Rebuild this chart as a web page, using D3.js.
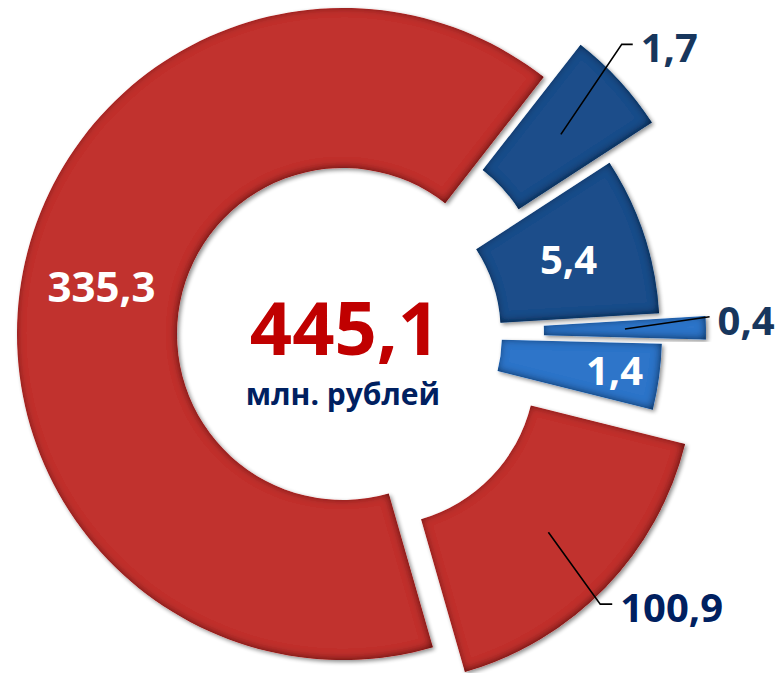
<!DOCTYPE html>
<html>
<head>
<meta charset="utf-8">
<script src="https://cdn.jsdelivr.net/npm/d3@7"></script>
<style>
  body { margin: 0; background: #fff; }
  text { font-family: "Open Sans", sans-serif; font-weight: 700; }
</style>
</head>
<body>
<div id="chart-area"></div>
<script>
// data
const values = [335.3, 1.7, 5.4, 0.4, 1.4, 100.9]
// sector sizes as drawn (degrees), the picture does not use proportional angles
const sweeps = [234, 19, 29.5, 5, 12.5, 60]
const unitLabel = "млн. рублей"

async function drawChart() {

  // 1. Access data
  const locale = d3.formatLocale({decimal: ",", thousands: " ", grouping: [3], currency: ["", ""]})
  const fmt = locale.format(".1f")
  const dataset = values.map((v, i) => ({value: v, sweep: sweeps[i], i}))

  // slice look: radii, how far the slice is pulled out, colour, label kind
  const red = "#C1302F", darkBlue = "#1F4E8A", lightBlue = "#2F74C9"
  const sliceLayout = [
    {inner: 166, outer: 326, shift: 0,  fill: red,       label: "inside",  size: 42},
    {inner: 161, outer: 320, shift: 55, fill: darkBlue,  label: "outside", elbowA: 43.9,  elbowR: 402, tail: 11, color: "#17365D"},
    {inner: 152, outer: 311, shift: 6,  fill: darkBlue,  label: "inside",  size: 40},
    {inner: 107, outer: 269, shift: 94, fill: lightBlue, label: "outside", elbowA: 87.3,  elbowR: 367, tail: 0,  color: "#17365D"},
    {inner: 145, outer: 305, shift: 14, fill: lightBlue, label: "inside",  size: 40, labelR: 260},
    {inner: 158, outer: 317, shift: 48, fill: red,       label: "outside", elbowA: 136.4, elbowR: 373, tail: 12, color: "#002060"},
  ]

  // 2. Create chart dimensions
  const dimensions = {
    width: 782,
    height: 673,
    cx: 343,
    cy: 334,
  }

  // 3. Draw canvas
  const wrapper = d3.select("#chart-area")
    .append("svg")
      .attr("width", dimensions.width)
      .attr("height", dimensions.height)

  const defs = wrapper.append("defs")
  const bevel = defs.append("filter")
      .attr("id", "bevel")
      .attr("x", "-10%").attr("y", "-10%")
      .attr("width", "120%").attr("height", "120%")
  // soft shadow outside
  bevel.append("feGaussianBlur").attr("in", "SourceAlpha").attr("stdDeviation", 2).attr("result", "outBlur")
  bevel.append("feOffset").attr("in", "outBlur").attr("dx", 1.5).attr("dy", 1.5).attr("result", "outOff")
  bevel.append("feComponentTransfer").attr("in", "outOff").attr("result", "outShadow")
    .append("feFuncA").attr("type", "linear").attr("slope", 0.45)
  // darker rim inside the edge
  bevel.append("feGaussianBlur").attr("in", "SourceAlpha").attr("stdDeviation", 4).attr("result", "inBlur")
  bevel.append("feOffset").attr("in", "inBlur").attr("dx", -1).attr("dy", -1).attr("result", "inOff")
  bevel.append("feComposite").attr("in", "SourceAlpha").attr("in2", "inOff")
      .attr("operator", "arithmetic").attr("k2", 1).attr("k3", -1).attr("result", "rim")
  bevel.append("feFlood").attr("flood-color", "#000").attr("flood-opacity", 0.95)
  bevel.append("feComposite").attr("in2", "rim").attr("operator", "in").attr("result", "rimShade")
  const merge = bevel.append("feMerge")
  merge.append("feMergeNode").attr("in", "outShadow")
  merge.append("feMergeNode").attr("in", "SourceGraphic")
  merge.append("feMergeNode").attr("in", "rimShade")

  const bounds = wrapper.append("g")
      .attr("transform", `translate(${dimensions.cx}, ${dimensions.cy})`)

  // 4. Create scales
  const rad = d => d * Math.PI / 180
  const pie = d3.pie()
      .sort(null)
      .value(d => d.sweep)
      .startAngle(rad(164 - 360))
      .endAngle(rad(164))
  const arcs = pie(dataset)

  const polar = (angle, r) => [Math.sin(angle) * r, -Math.cos(angle) * r]

  // 5. Draw data
  const slices = bounds.selectAll(".slice")
    .data(arcs)
    .join("g")
      .attr("class", "slice")
      .attr("transform", d => {
        const l = sliceLayout[d.data.i]
        const [x, y] = polar((d.startAngle + d.endAngle) / 2, l.shift)
        return `translate(${x}, ${y})`
      })

  slices.append("path")
      .attr("d", d => {
        const l = sliceLayout[d.data.i]
        return d3.arc().innerRadius(l.inner).outerRadius(l.outer)(d)
      })
      .attr("fill", d => sliceLayout[d.data.i].fill)
      .attr("filter", "url(#bevel)")

  // labels inside slices
  slices.filter(d => sliceLayout[d.data.i].label === "inside")
    .append("text")
      .attr("transform", d => {
        const l = sliceLayout[d.data.i]
        const r = l.labelR || (l.inner + l.outer) / 2
        const [x, y] = polar((d.startAngle + d.endAngle) / 2, r)
        return `translate(${x}, ${y})`
      })
      .attr("dy", "0.36em")
      .attr("text-anchor", "middle")
      .attr("fill", "#fff")
      .style("font-size", d => sliceLayout[d.data.i].size + "px")
      .text(d => fmt(d.data.value))

  // labels outside, with leader lines
  const outside = slices.filter(d => sliceLayout[d.data.i].label === "outside")
  outside.each(function(d) {
    const l = sliceLayout[d.data.i]
    const g = d3.select(this)
    const [sx, sy] = polar((d.startAngle + d.endAngle) / 2, l.shift)
    const start = d3.arc().innerRadius(l.inner).outerRadius(l.outer).centroid(d)
    // elbow is measured from the chart centre, slice group is shifted
    const [ex, ey] = polar(rad(l.elbowA), l.elbowR)
    const elbow = [ex - sx, ey - sy]
    const end = [elbow[0] + l.tail, elbow[1]]

    g.append("path")
        .attr("d", d3.line()([start, elbow, end]))
        .attr("fill", "none")
        .attr("stroke", "#000")
        .attr("stroke-width", 1.6)

    g.append("text")
        .attr("x", end[0] + 8)
        .attr("y", end[1] + 18)
        .attr("fill", l.color)
        .style("font-size", "40px")
        .text(fmt(d.data.value))
  })

  // 6. Draw peripherals
  bounds.append("text")
      .attr("x", 2)
      .attr("y", 21)
      .attr("text-anchor", "middle")
      .attr("fill", "#C00000")
      .style("font-size", "74px")
      .text(fmt(d3.sum(values)))

  bounds.append("text")
      .attr("x", 0)
      .attr("y", 71)
      .attr("text-anchor", "middle")
      .attr("fill", "#002060")
      .style("font-size", "30px")
      .text(unitLabel)
}
drawChart()
</script>
</body>
</html>
